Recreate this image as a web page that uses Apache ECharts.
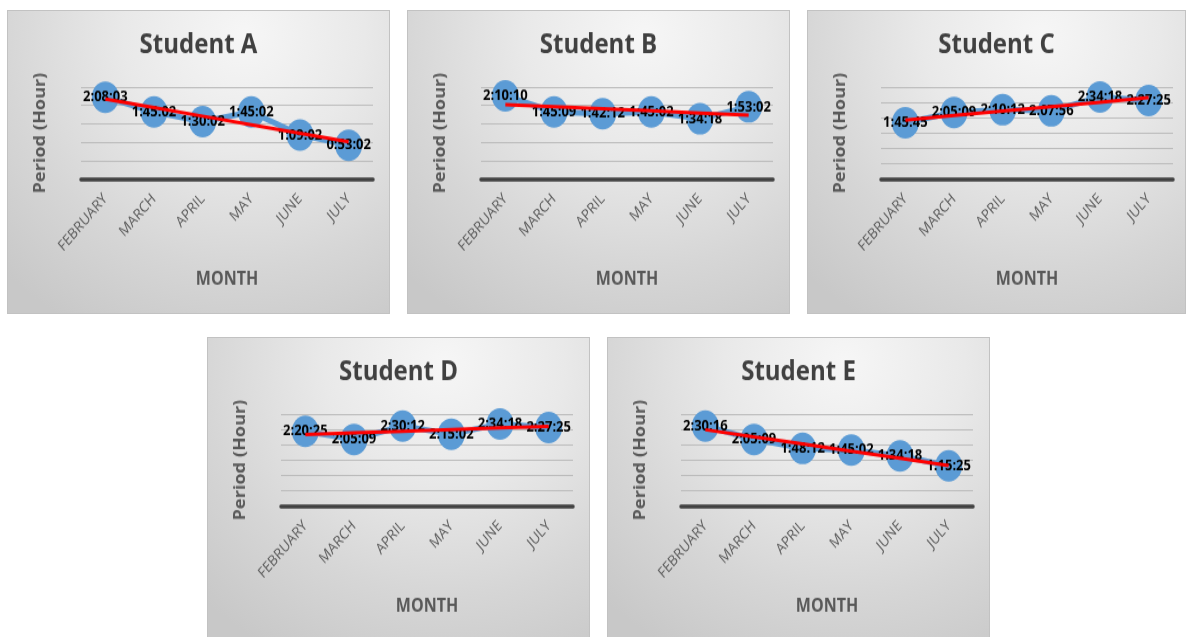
<!DOCTYPE html>
<html>
<head>
<meta charset="utf-8">
<script src="https://cdn.jsdelivr.net/npm/echarts@6/dist/echarts.min.js"></script>
<style>
  html, body { margin: 0; padding: 0; background: #ffffff; width: 1186px; height: 637px; overflow: hidden; }
  .panel {
    position: absolute;
    box-sizing: border-box;
    overflow: hidden;
    border: 1px solid #c2c2c2;
    background: radial-gradient(ellipse 90% 110% at 62% 8%, #f6f6f6 0%, #e9e9e9 35%, #d6d6d6 70%, #c8c8c8 100%);
  }
  .chart {
    position: absolute;
    left: 0;
    top: 0;
    width: 100%;
    transform-origin: 0 0;
  }
</style>
</head>
<body>
<div id="pA" class="panel" style="left:7px;top:10px;width:383px;height:304px;"><div class="chart"></div></div>
<div id="pB" class="panel" style="left:407px;top:10px;width:383px;height:304px;"><div class="chart"></div></div>
<div id="pC" class="panel" style="left:807px;top:10px;width:379px;height:304px;"><div class="chart"></div></div>
<div id="pD" class="panel" style="left:207px;top:337px;width:383px;height:304px;"><div class="chart"></div></div>
<div id="pE" class="panel" style="left:607px;top:337px;width:383px;height:304px;"><div class="chart"></div></div>
<script>
// Months on the category axis
const months = ['FEBRUARY', 'MARCH', 'APRIL', 'MAY', 'JUNE', 'JULY'];

// Monthly study period per student (h:mm:ss)
const studentA = ['2:08:03', '1:45:02', '1:30:02', '1:45:02', '1:09:02', '0:53:02'];
const studentB = ['2:10:10', '1:45:09', '1:42:12', '1:45:02', '1:34:18', '1:53:02'];
const studentC = ['1:45:45', '2:05:09', '2:10:12', '2:07:56', '2:34:18', '2:27:25'];
const studentD = ['2:20:25', '2:05:09', '2:30:12', '2:15:02', '2:34:18', '2:27:25'];
const studentE = ['2:30:16', '2:05:09', '1:48:12', '1:45:02', '1:34:18', '1:15:25'];

// Axis top in days (0.1 day = 2:24:00, 0.12 day = 2:52:48); gridline step 0.02 day
const axisMaxDays = { A: 0.1, B: 0.1, C: 0.12, D: 0.12, E: 0.12 };
const stepDays = 0.02;
const DAY = 86400;

// Charts are drawn on a canvas that is stretched vertically (tall Calibri-like look)
const STRETCH = 1.17;
const vy = px => px / STRETCH;

const FONT = '"Open Sans", "Noto Sans", sans-serif';

function toSeconds(t) {
  const p = t.split(':').map(Number);
  return p[0] * 3600 + p[1] * 60 + p[2];
}

// Least-squares linear trend evaluated at each month
function linearTrend(vals) {
  const n = vals.length;
  let sx = 0, sy = 0, sxy = 0, sxx = 0;
  vals.forEach((v, i) => { sx += i; sy += v; sxy += i * v; sxx += i * i; });
  const slope = (n * sxy - sx * sy) / (n * sxx - sx * sx);
  const icpt = (sy - slope * sx) / n;
  return vals.map((_, i) => icpt + slope * i);
}

function buildOption(name, times, maxDays) {
  const secs = times.map(toSeconds);
  const trend = linearTrend(secs);
  return {
    animation: false,
    textStyle: { fontFamily: FONT },
    title: {
      text: name,
      left: 'center',
      top: vy(33) - 16,
      textStyle: { fontFamily: FONT, fontWeight: 'bold', fontSize: 24, color: '#404040' }
    },
    grid: { left: 73, width: 292, top: vy(76), height: vy(92) },
    xAxis: {
      type: 'category',
      data: months,
      boundaryGap: true,
      axisTick: { show: false },
      axisLine: { lineStyle: { color: '#404040', width: 3.5 } },
      axisLabel: { rotate: 45, color: '#595959', fontSize: 13, margin: 15, fontFamily: FONT },
      splitLine: { show: false },
      name: 'MONTH',
      nameLocation: 'middle',
      nameGap: 78,
      nameTextStyle: { fontFamily: FONT, fontWeight: 'bold', fontSize: 16, color: '#595959' }
    },
    yAxis: {
      type: 'value',
      min: 0,
      max: maxDays * DAY,
      interval: stepDays * DAY,
      axisLabel: { show: false },
      axisLine: { show: false },
      axisTick: { show: false },
      splitLine: { lineStyle: { color: '#bbbbbb', width: 1 } },
      name: 'Period (Hour)',
      nameLocation: 'middle',
      nameGap: 32,
      nameTextStyle: { fontFamily: FONT, fontWeight: 'bold', fontSize: 15.5, color: '#595959' }
    },
    series: [
      {
        name: name,
        type: 'line',
        data: secs,
        z: 2,
        symbol: 'circle',
        symbolSize: 27,
        itemStyle: { color: '#5B9BD5' },
        lineStyle: { color: '#5B9BD5', width: 5 },
        label: {
          show: true,
          position: 'inside',
          formatter: p => times[p.dataIndex],
          fontFamily: FONT,
          fontWeight: 'bold',
          fontSize: 13,
          color: '#000000'
        }
      },
      {
        name: name + ' trend',
        type: 'line',
        data: trend,
        z: 3,
        silent: true,
        symbol: 'none',
        lineStyle: { color: '#FF0000', width: 3 }
      }
    ]
  };
}

const panels = [
  ['pA', 'Student A', studentA, axisMaxDays.A],
  ['pB', 'Student B', studentB, axisMaxDays.B],
  ['pC', 'Student C', studentC, axisMaxDays.C],
  ['pD', 'Student D', studentD, axisMaxDays.D],
  ['pE', 'Student E', studentE, axisMaxDays.E]
];

panels.forEach(([id, name, times, maxDays]) => {
  const panel = document.getElementById(id);
  const box = panel.querySelector('.chart');
  box.style.height = (panel.clientHeight / STRETCH) + 'px';
  box.style.transform = 'scaleY(' + STRETCH + ')';
  const chart = echarts.init(box, null, { renderer: 'canvas' });
  chart.setOption(buildOption(name, times, maxDays));
});
</script>
</body>
</html>
